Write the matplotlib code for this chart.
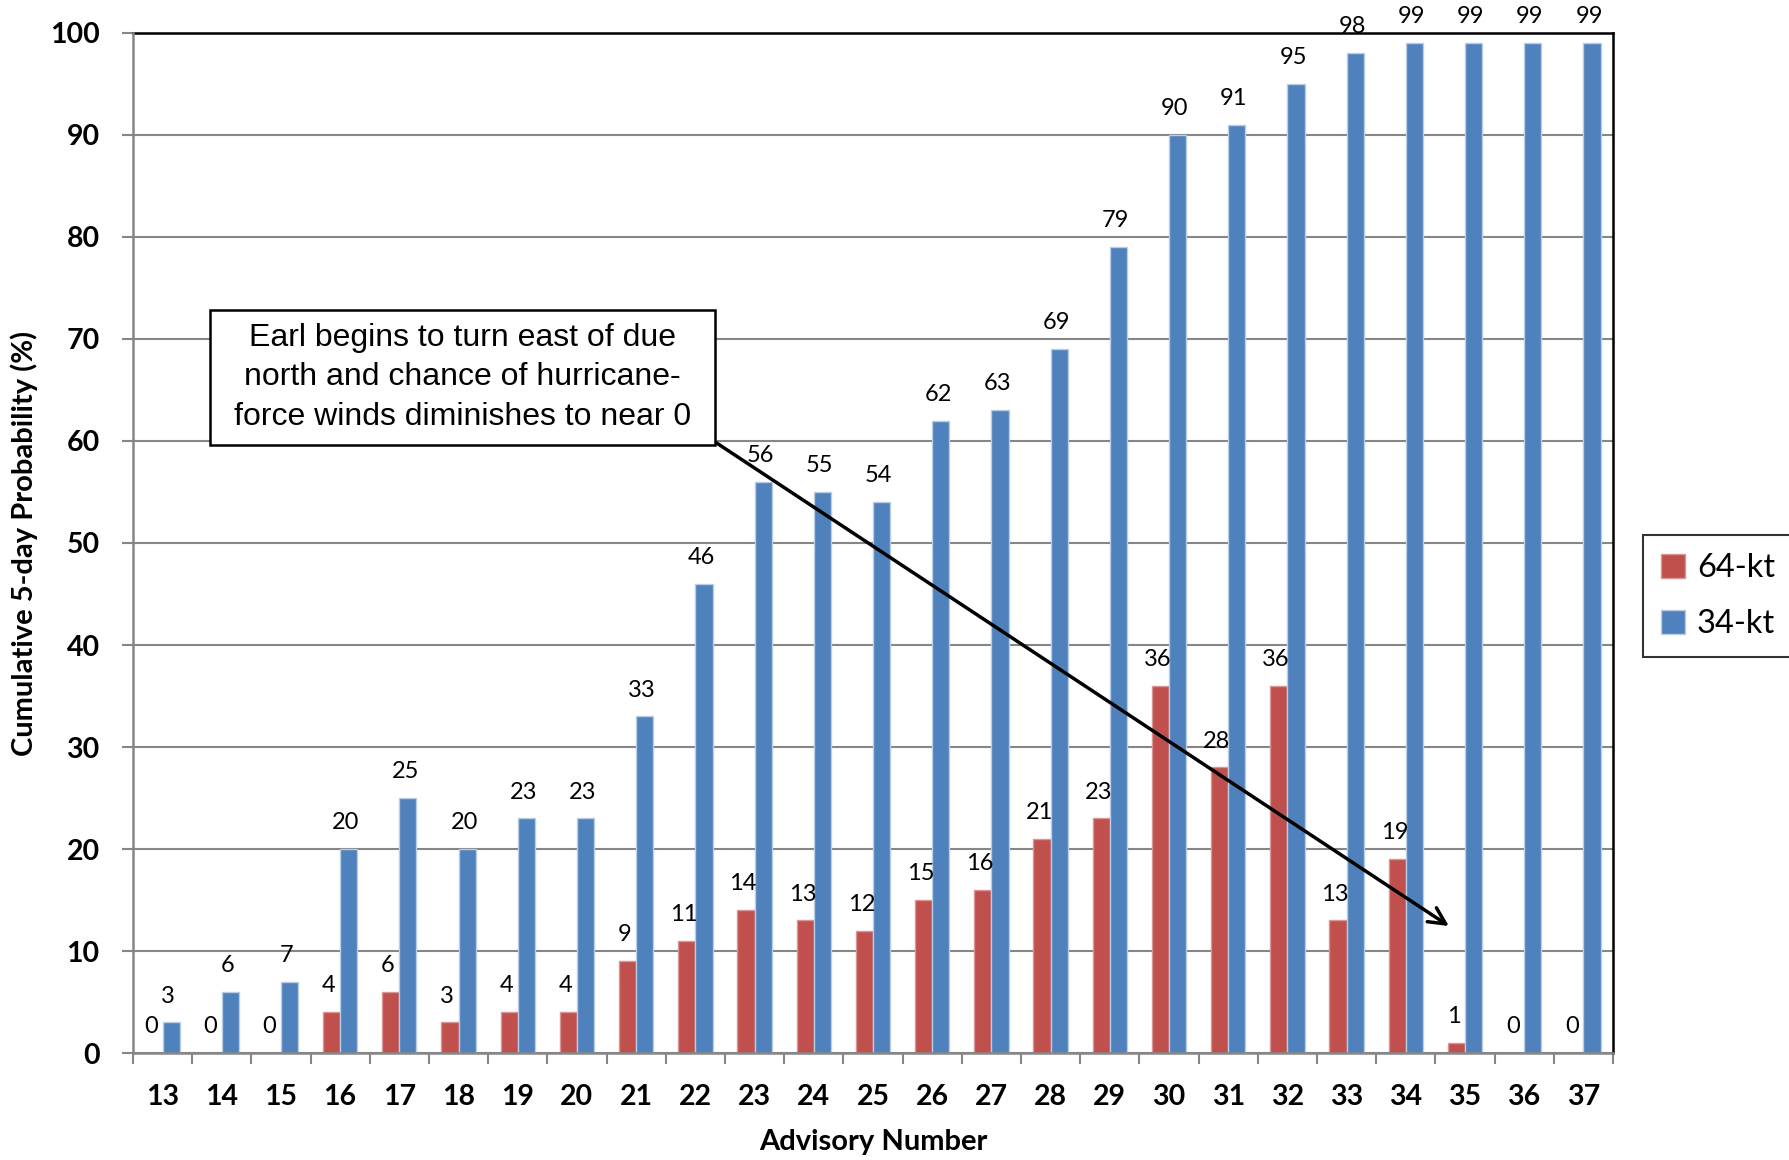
import numpy as np
import matplotlib
matplotlib.use('Agg')
import matplotlib.pyplot as plt
from matplotlib.patches import Rectangle

advisories = [str(i) for i in range(13, 38)]
kt64 = [0, 0, 0, 4, 6, 3, 4, 4, 9, 11, 14, 13, 12, 15, 16, 21, 23, 36, 28, 36, 13, 19, 1, 0, 0]
kt34 = [3, 6, 7, 20, 25, 20, 23, 23, 33, 46, 56, 55, 54, 62, 63, 69, 79, 90, 91, 95, 98, 99, 99, 99, 99]
yticks = list(range(0, 101, 10))
note = 'Earl begins to turn east of due\nnorth and chance of hurricane-\nforce winds diminishes to near 0'

plt.rcParams['font.family'] = ['Lato', 'DejaVu Sans']

fig = plt.figure(figsize=(17.89, 11.6), dpi=100)
ax = fig.add_axes([0.0743, 0.0922, 0.8273, 0.8794])

x = np.arange(len(advisories))
w = 0.29
red = '#C0504D'
blue = '#4F81BD'
b1 = ax.bar(x - w / 2, kt64, w, color=red, edgecolor='#D99694', linewidth=1, label='64-kt', zorder=3)
b2 = ax.bar(x + w / 2, kt34, w, color=blue, edgecolor='#B9CDE5', linewidth=1, label='34-kt', zorder=3)

for bars, vals in [(b1, kt64), (b2, kt34)]:
    for r, v in zip(bars, vals):
        ax.annotate(str(v), (r.get_x() + r.get_width() / 2, v), xytext=(-2, 19),
                    textcoords='offset points', ha='center', va='center',
                    fontsize=17, zorder=5)

ax.set_xlim(-0.5, len(advisories) - 0.5)
ax.set_ylim(0, 100)
ax.set_yticks(yticks)
ax.set_yticklabels([str(t) for t in yticks], fontsize=20.5, fontweight='bold')
ax.set_xticks(x)
ax.set_xticklabels(advisories, fontsize=20.5, fontweight='bold')
ax.set_xticks(np.arange(-0.5, len(advisories)), minor=True)
ax.tick_params(axis='x', which='major', length=0, pad=22)
ax.tick_params(axis='x', which='minor', length=8, width=1.5, color='#868686', direction='out')
ax.tick_params(axis='y', length=8, width=1.5, color='#868686', direction='out', pad=16)

ax.grid(axis='y', color='#868686', linewidth=1.5, zorder=0)
ax.set_axisbelow(True)
for s in ['left', 'bottom']:
    ax.spines[s].set_color('#868686')
    ax.spines[s].set_linewidth(1.8)
    ax.spines[s].set_zorder(4)
for s in ['top', 'right']:
    ax.spines[s].set_color('black')
    ax.spines[s].set_linewidth(1.8)

ax.set_xlabel('Advisory Number', fontsize=21, fontweight='bold')
ax.set_ylabel('Cumulative 5-day Probability (%)', fontsize=21, fontweight='bold')
ax.xaxis.set_label_coords(0.5, -0.0745)
ax.yaxis.set_label_coords(-0.064, 0.5)

# callout and arrow
ax.annotate('', xy=(21.73, 12.45), xytext=(9.36, 59.8),
            arrowprops=dict(arrowstyle='->', lw=2.5, color='black', mutation_scale=30,
                            shrinkA=0, shrinkB=0), zorder=6)
fig.patches.append(Rectangle((0.1174, 0.6164), 0.2823, 0.1164, transform=fig.transFigure,
                             fc='white', ec='black', lw=1.8, zorder=7))
fig.text(0.2585, 0.6746, note, ha='center', va='center', fontsize=23,
         family='Liberation Sans', linespacing=1.42, zorder=8)

leg = ax.legend(handles=[b1, b2], loc='center left', bbox_to_anchor=(0.9184, 0.4862),
                bbox_transform=fig.transFigure, fontsize=23.5, frameon=True, fancybox=False,
                edgecolor='black', handlelength=0.75, handleheight=0.75, handletextpad=0.35,
                labelspacing=0.8, borderpad=0.55, borderaxespad=0)
leg.get_frame().set_linewidth(1.5)

fig.savefig('out.png', dpi=100)
